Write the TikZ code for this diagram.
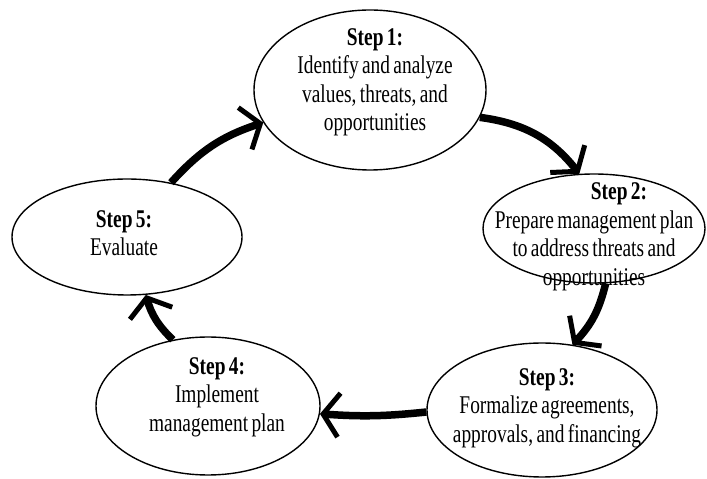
\documentclass[tikz,border=0pt]{standalone}
\usepackage{fontspec}
\setmainfont{Liberation Serif}[FakeStretch=0.76, WordSpace=0.7]
\usetikzlibrary{shapes.geometric}
\usetikzlibrary{arrows.meta}

\begin{document}
\begin{tikzpicture}[x=1pt, y=1pt,
    stepshape/.style={ellipse, draw, line width=1.4pt, inner sep=0pt},
    steptext/.style={align=center, inner sep=0pt, font=\fontsize{25.5}{28.5}\selectfont},
    flowarrow/.style={line width=7.5pt,
      -{Straight Barb[length=16pt, width=44pt, line width=5pt]}}]
  \useasboundingbox (0,0) rectangle (707,479);
  % the five steps
  \node[stepshape, minimum width=232pt, minimum height=160pt] (s1) at (370,389) {};
  \node[stepshape, minimum width=222pt, minimum height=109pt] (s2) at (594,250.5) {};
  \node[stepshape, minimum width=230pt, minimum height=134pt] (s3) at (542,69) {};
  \node[stepshape, minimum width=224pt, minimum height=138pt] (s4) at (208,73) {};
  \node[stepshape, minimum width=230pt, minimum height=116pt] (s5) at (127,242) {};
  \node[steptext] (t1) at (375,396.5) {\textbf{Step 1:}\\
                                         Identify and analyze\\
                                         values, threats, and\\
                                         opportunities};
  \node[steptext] (t2) at (594,242) {\hspace*{50pt}\textbf{Step 2:}\\
                                      Prepare management plan\\
                                      to address threats and\\
                                      opportunities};
  \node[steptext] (t3) at (547,71) {\textbf{Step 3:}\\
                                     Formalize agreements,\\
                                     approvals, and financing};
  \node[steptext] (t4) at (217,82) {\textbf{Step 4:}\\
                                     Implement\\
                                     management plan};
  \node[steptext] (t5) at (124,246) {\textbf{Step 5:}\\
                                      Evaluate};
  % the cycle
  \draw[flowarrow] (s5.51) to[bend left=15] (s1.197);
  \draw[flowarrow] (s1.-14) to[bend left=22] (s2.105);
  \draw[flowarrow] (s2.-78) to[bend left=15] (s3.65);
  \draw[flowarrow] (s3.181) to[bend left=5] (s4.-4);
  \draw[flowarrow] (s4.118) to[bend left=15] (s5.-72);
\end{tikzpicture}
\end{document}
